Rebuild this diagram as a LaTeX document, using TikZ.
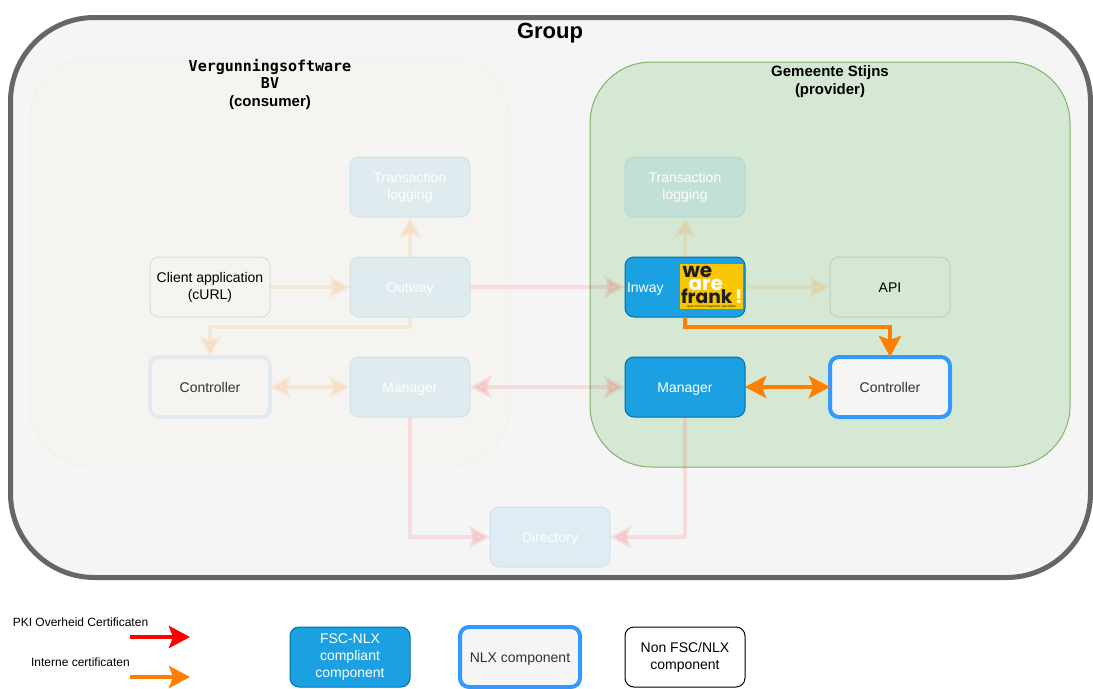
\documentclass[tikz,border=0pt]{standalone}
\usepackage{fontspec}
\setmainfont{Liberation Sans}
\newfontfamily\monob{DejaVu Sans Mono}[BoldFont={DejaVu Sans Mono Bold}]
\newfontfamily\logofont{Poppins}[BoldFont={Poppins Bold}]
\usetikzlibrary{arrows.meta}
\definecolor{fscblue}{HTML}{1BA1E2}
\definecolor{fscline}{HTML}{006EAF}
\definecolor{nlxblue}{HTML}{3399FF}
\definecolor{certred}{HTML}{FF0000}
\definecolor{certorange}{HTML}{FF8000}
\definecolor{greyline}{HTML}{666666}
\definecolor{panel}{HTML}{F5F5F5}
\definecolor{consfill}{HTML}{F6F4F0}
\definecolor{consline}{HTML}{F3F0E4}
\definecolor{provfill}{HTML}{D5E8D4}
\definecolor{provline}{HTML}{82B366}
\definecolor{logoyellow}{HTML}{F9C606}
\definecolor{logoblack}{HTML}{1D1D1B}
\newcommand\boxstrut{\rule[-2.2pt]{0pt}{12.7pt}}
\tikzset{
  x=0.75pt,y=-0.75pt,
  every node/.style={font=\fontsize{10.5pt}{12.6pt}\selectfont,align=center,outer sep=0pt},
  comp/.style={rectangle,rounded corners=6.75pt,minimum width=90pt,minimum height=45pt,inner sep=1pt,line width=.75pt,execute at begin node={\boxstrut}},
  fsc/.style={comp,draw=fscline,fill=fscblue,text=white},
  fscfaded/.style={comp,draw=fscline,fill=fscblue,draw opacity=.1,fill opacity=.1,text=white,text opacity=1,execute at begin node={\pgfsetfillopacity{1}\boxstrut}},
  plainfaded/.style={comp,draw=black,draw opacity=.1,text=black},
  nlx/.style={comp,draw=nlxblue,fill=panel,line width=3pt,text=black!80},
  nlxfaded/.style={comp,draw=nlxblue,draw opacity=.1,line width=3pt,text=black!80},
  plainbox/.style={comp,draw=black,fill=white,text=black},
  tipped/.style={line width=3.5pt},
  headend/.style={-{Stealth[length=15.75pt,width=16.5pt,inset=3pt]}},
  headboth/.style={{Stealth[length=15.75pt,width=16.5pt,inset=3pt]}-{Stealth[length=15.75pt,width=16.5pt,inset=3pt]}},
  orangefaded/.style={tipped,draw=certorange,opacity=.1},
  redfaded/.style={tipped,draw=certred,opacity=.1},
  orangeline/.style={tipped,draw=certorange},
  redline/.style={tipped,draw=certred},
  orglabel/.style={font=\fontsize{11.25pt}{13.5pt}\selectfont\bfseries,text=black},
  legendlabel/.style={font=\fontsize{9pt}{11pt}\selectfont,text=black},
  logotext/.style={anchor=base west,inner sep=0pt,font=\logofont\bfseries\fontsize{15pt}{15pt}\selectfont,text=logoblack}
}
\begin{document}
\begin{tikzpicture}
\useasboundingbox (0,0) rectangle (1093,689);
\fill[white] (0,0) rectangle (1093,689);
% containers
\draw[greyline,fill=panel,line width=3.75pt,rounded corners=63pt] (10.5,17.5) rectangle (1090.5,577.5);
\draw[consline,fill=consfill,line width=.75pt,rounded corners=46pt] (30,57) rectangle (510,467);
\draw[provline,fill=provfill,line width=.75pt,rounded corners=46pt] (590,62) rectangle (1070,467);
\node[font=\fontsize{16.5pt}{19pt}\selectfont\bfseries] (grouptitle) at (550,33.5) {Group};
\node[orglabel] (constitle) at (270,84.5) {{\monob\bfseries Vergunningsoftware}\\[-0.5pt]{\monob\bfseries BV}\\(consumer)};
\node[orglabel] (provtitle) at (830,81.5) {Gemeente Stijns\\(provider)};
% consumer
\node[fscfaded] (txc) at (410,187) {Transaction\\logging};
\node[plainfaded] (client) at (210,287) {Client application\\(cURL)};
\node[fscfaded] (outway) at (410,287) {Outway};
\node[nlxfaded] (ctrlc) at (210,387) {Controller};
\node[fscfaded] (mgrc) at (410,387) {Manager};
% provider
\node[fscfaded] (txp) at (685,187) {Transaction\\logging};
\node[fsc,text width=87pt,align=left] (inway) at (685,287) {Inway};
\node[plainfaded] (api) at (890,287) {API};
\node[fsc] (mgrp) at (685,387) {Manager};
\node[nlx] (ctrlp) at (890,387) {Controller};
% directory
\node[fscfaded] (dir) at (550,537) {Directory};
% logo
\node[rectangle,fill=logoyellow,minimum width=47.25pt,minimum height=33.75pt,inner sep=0pt] (logo) at (711.5,286.5) {};
\node[logotext] (lwe) at (682.5,277.5) {we};
\node[logotext,text=white] (lare) at (688.5,290) {are};
\node[logotext,font=\logofont\bfseries\fontsize{14pt}{14pt}\selectfont] (lfrank) at (681,303) {frank};
\node[logotext,text=white,font=\logofont\bfseries\fontsize{14pt}{14pt}\selectfont] (lbang) at (735,303) {!};
\node[anchor=base,inner sep=0pt,font=\fontsize{2.4pt}{3pt}\selectfont,text=logoblack] (lsub) at (711.5,307.5) {open source integration specialists};
% faded connectors
\draw[orangefaded,headend] (client.east) -- (outway.west);
\draw[orangefaded,headend] (outway.north) -- (txc.south);
\draw[orangefaded,headend] (outway.south) -- ++(0,10) -| (ctrlc.north);
\draw[orangefaded,headboth] (ctrlc.east) -- (mgrc.west);
\draw[redfaded,headend] (outway.east) -- (inway.west);
\draw[redfaded,headboth] (mgrc.east) -- (mgrp.west);
\draw[redfaded,headend] (mgrc.south) |- (dir.west);
\draw[redfaded,headend] (mgrp.south) |- (dir.east);
\draw[orangefaded,headend] (inway.north) -- (txp.south);
\draw[orangefaded,headend] (inway.east) -- (api.west);
% solid connectors
\draw[orangeline,headend] (inway.south) -- ++(0,10) -| (ctrlp.north);
\draw[orangeline,headboth] (mgrp.east) -- (ctrlp.west);
% legend
\node[legendlabel] (lpki) at (80.5,622.5) {PKI Overheid Certificaten};
\node[legendlabel] (lint) at (80.5,662.5) {Interne certificaten};
\coordinate (redstart) at (130,637);
\coordinate (redend) at (190,637);
\coordinate (orgstart) at (130,677);
\coordinate (orgend) at (190,677);
\draw[redline,headend] (redstart) -- (redend);
\draw[orangeline,headend] (orgstart) -- (orgend);
\node[fsc] (lfsc) at (350,657) {FSC-NLX\\compliant\\component};
\node[nlx] (lnlx) at (520,657) {NLX component};
\node[plainbox] (lnon) at (685,657) {Non FSC/NLX\\component};
\end{tikzpicture}
\end{document}
